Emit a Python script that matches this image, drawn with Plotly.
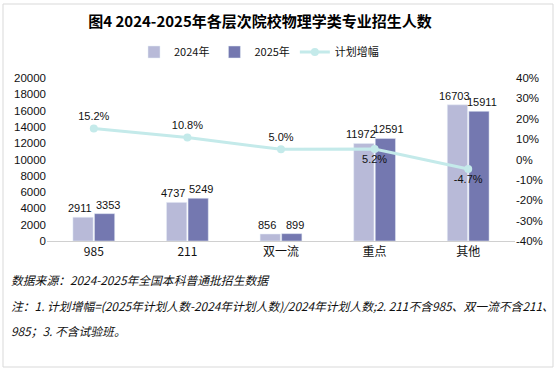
import plotly.graph_objects as go

categories = ["985", "211", "双一流", "重点", "其他"]
enroll_2024 = [2911, 4737, 856, 11972, 16703]
enroll_2025 = [3353, 5249, 899, 12591, 15911]
growth_pct = [15.2, 10.8, 5.0, 5.2, -4.7]
growth_text_pos = ["top center", "top center", "top center", "bottom center", "bottom center"]
y_ticks = [0, 2000, 4000, 6000, 8000, 10000, 12000, 14000, 16000, 18000, 20000]
y2_ticks = [-40, -30, -20, -10, 0, 10, 20, 30, 40]

FONT = "Noto Sans CJK SC, DejaVu Sans, sans-serif"
NUMFONT = "Liberation Sans, Arial, sans-serif"

fig = go.Figure()
fig.add_trace(go.Bar(
    name="2024年", x=categories, y=enroll_2024,
    marker=dict(color="#B8BAD8"),
))
fig.add_trace(go.Bar(
    name="2025年", x=categories, y=enroll_2025,
    marker=dict(color="#7478B0"),
))
fig.add_trace(go.Scatter(
    name="计划增幅", x=categories, y=growth_pct, yaxis="y2",
    mode="lines+markers+text",
    line=dict(color="#C4EAEA", width=3),
    marker=dict(color="#C4EAEA", size=8),
    text=[f"{v:.1f}%" for v in growth_pct], textposition=growth_text_pos,
    textfont=dict(size=11, color="#111111", family=NUMFONT), cliponaxis=False,
))

# plot area: x 47..515, y 78..241 (px)
L, R, T, B = 47, 515, 78, 241
W, H = R - L, B - T
def px(x):
    return (x - L) / W
def py(y):
    return (B - y) / H

annotations = []
# bar value labels (at each bar's category index and value, nudged sideways)
for vals, shift in ((enroll_2024, -14), (enroll_2025, 14)):
    for i, v in enumerate(vals):
        annotations.append(dict(
            text=str(v), x=i, y=v, xref="x", yref="y", xshift=shift, yshift=1,
            xanchor="center", yanchor="bottom", showarrow=False,
            font=dict(size=11, color="#111111", family=NUMFONT),
        ))

notes = [
    ("数据来源：2024-2025年全国本科普通批招生数据", 279),
    ("注：1. 计划增幅=(2025年计划人数-2024年计划人数)/2024年计划人数;2. 211不含985、双一流不含211、", 305),
    ("985；3. 不含试验班。", 330),
]
for txt, yy in notes:
    annotations.append(dict(
        text=txt, x=px(9), y=py(yy), xref="paper", yref="paper",
        xanchor="left", yanchor="middle", showarrow=False,
        font=dict(size=11.8, color="#111111", family=FONT, style="italic"),
    ))

fig.update_layout(
    width=557, height=373,
    margin=dict(l=L, r=557 - R, t=T, b=373 - B, autoexpand=False),
    paper_bgcolor="white", plot_bgcolor="white",
    font=dict(family=FONT, size=12, color="#111111"),
    title=dict(
        text="<b>图4 2024-2025年各层次院校物理学类专业招生人数</b>",
        x=260 / 557, xanchor="center", y=1 - 22 / 373, yanchor="middle",
        font=dict(size=15, color="#000000", family=FONT),
    ),
    legend=dict(
        orientation="h", x=259 / 557, xanchor="center", xref="container",
        y=1 - 52 / 373, yanchor="middle",
        yref="container", font=dict(size=11), itemwidth=30,
    ),
    barmode="group", bargap=0.54, bargroupgap=0.06,
    xaxis=dict(type="category", showline=True, linecolor="#D0D0D0", linewidth=1, ticks="",
               tickfont=dict(size=12), automargin=False),
    yaxis=dict(range=[0, 20000], tickvals=y_ticks, ticktext=[str(v) for v in y_ticks],
               showgrid=False, zeroline=False, automargin=False,
               showline=False, ticks="", tickfont=dict(size=11.5, family=NUMFONT)),
    yaxis2=dict(range=[-40, 40], tickvals=y2_ticks, ticktext=[f"{v}%" for v in y2_ticks],
                overlaying="y", side="right", showgrid=False, zeroline=False, automargin=False,
                showline=False, ticks="", tickfont=dict(size=11.5, family=NUMFONT)),
    annotations=annotations,
    shapes=[dict(type="rect", xref="paper", yref="paper",
                 x0=px(3), x1=px(553), y0=py(367), y1=py(4),
                 line=dict(color="#D9D9D9", width=1), fillcolor="rgba(0,0,0,0)", layer="below")],
    showlegend=True,
)

fig.write_html("out.html", post_script="document.body.style.margin='0';",
               config={"displayModeBar": False})
